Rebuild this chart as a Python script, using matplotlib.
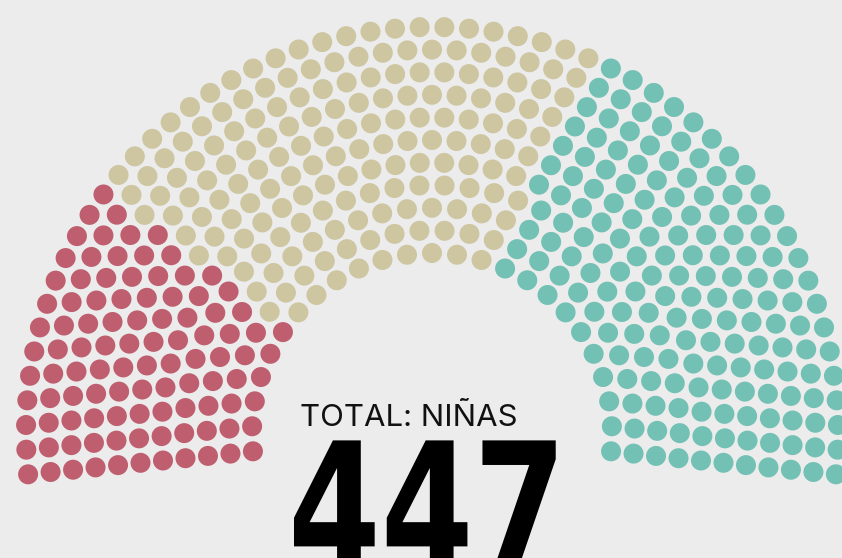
import numpy as np
import matplotlib.pyplot as plt
import matplotlib.patheffects as pe
from matplotlib.transforms import Affine2D

# seats per group, ordered left to right around the arc
groups = ['grupo 1', 'grupo 2', 'grupo 3']
seats = [102, 173, 172]
colors = ['#bf5e6f', '#cdc6a1', '#72c1b4']
total_label = 'TOTAL: NIÑAS'
total_value = '447'

# layout, in pixel coords of the 842x558 canvas
cx, cy = 432, 433
r_in, r_out = 180, 406
n_rows = 11
a_start, a_end = 185.84, -5.84
dot_d = 20


class Squeeze(pe.AbstractPathEffect):
  # narrow the glyphs horizontally around x0 (display px), text stays text
  def __init__(self, sx, x0):
    super().__init__()
    self.sx = sx
    self.x0 = x0

  def draw_path(self, renderer, gc, tpath, affine, rgbFace=None):
    t = affine + Affine2D().translate(-self.x0, 0).scale(self.sx, 1).translate(self.x0, 0)
    renderer.draw_path(gc, tpath, t, rgbFace)


fig = plt.figure(figsize=(8.42, 5.58), dpi=100, facecolor='#ececec')
ax = fig.add_axes([0, 0, 1, 1])
ax.set_facecolor('#ececec')
ax.set_xlim(0, 842)
ax.set_ylim(558, 0)
ax.axis('off')

# seats per row proportional to radius (largest remainder)
total = sum(seats)
radii = np.linspace(r_in, r_out, n_rows)
share = total * radii / radii.sum()
per_row = np.floor(share).astype(int)
left = total - per_row.sum()
per_row[np.argsort(-(share - per_row))[:left]] += 1

ang, rad = [], []
for r, n in zip(radii, per_row):
  a = np.linspace(a_start, a_end, n)
  ang.extend(a)
  rad.extend([r] * n)
ang = np.array(ang)
rad = np.array(rad)
order = np.argsort(-ang, kind='stable')
ang, rad = ang[order], rad[order]

col = np.repeat(colors, seats)
x = cx + rad * np.cos(np.radians(ang))
y = cy - rad * np.sin(np.radians(ang))
s = (dot_d * 72 / fig.dpi) ** 2
ax.scatter(x, y, s=s, c=col, linewidths=0)

ax.text(300, 426, total_label, fontsize=22.4, family=['Inter', 'DejaVu Sans'],
        ha='left', va='baseline', color='#111111')
big = ax.text(288, 570, total_value, fontsize=128, family='DejaVu Sans',
              weight='bold', ha='left', va='baseline', color='#000000')
big.set_path_effects([Squeeze(0.75, 288 * fig.dpi / 100)])

fig.savefig('out.png', dpi=100, facecolor=fig.get_facecolor())
